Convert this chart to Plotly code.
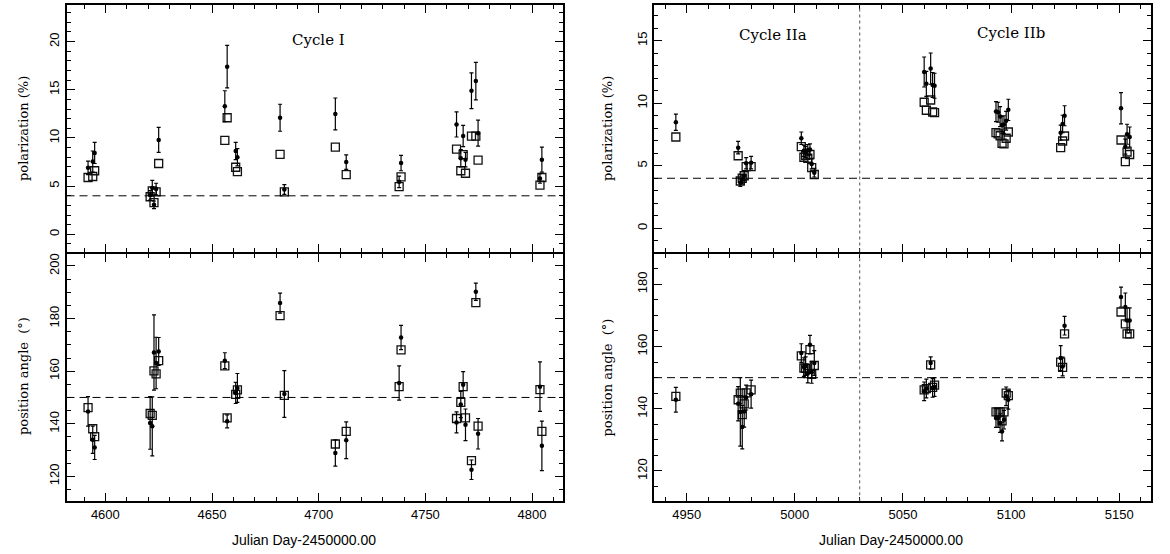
import plotly.graph_objects as go

# ---------------- Cycle I ----------------
c1_day = [4591.9, 4594.1, 4595.0, 4621.0, 4622.0, 4622.8, 4623.8, 4625.0,
          4656.0, 4657.1, 4661.1, 4661.9, 4681.9, 4683.9, 4707.8, 4712.9,
          4737.7, 4738.6, 4764.6, 4766.6, 4767.7, 4768.8, 4771.6, 4773.65,
          4774.7, 4803.7, 4804.6]
c1_pol = [6.9, 7.55, 8.45, 4.05, 4.8, 3.06, 4.7, 9.8,
          13.3, 17.4, 8.65, 8.0, 12.1, 4.65, 12.5, 7.5,
          5.45, 7.4, 11.4, 7.9, 10.2, 7.75, 14.9, 15.9,
          10.5, 5.8, 7.75]
c1_pol_err = [0.7, 1.1, 1.1, 0.5, 0.8, 0.4, 0.6, 1.3,
              1.6, 2.2, 0.9, 0.9, 1.4, 0.5, 1.65, 0.75,
              0.6, 0.8, 1.3, 0.9, 1.1, 0.75, 1.86, 1.95,
              1.35, 0.5, 1.3]
c1_pol_sq = [5.9, 6.0, 6.6, 3.9, 4.5, 3.3, 4.4, 7.35,
             9.75, 12.1, 6.96, 6.5, 8.3, 4.4, 9.06, 6.2,
             4.96, 5.96, 8.85, 6.6, 8.27, 6.34, 10.2, 10.2,
             7.7, 5.1, 5.9]
c1_pa = [144.7, 133.9, 131.0, 140.3, 139.0, 167.1, 163.1, 167.5,
         164.0, 140.9, 151.7, 153.6, 185.9, 151.3, 128.9, 133.7,
         155.5, 172.8, 140.5, 147.3, 154.8, 139.6, 122.5, 190.2,
         136.2, 154.1, 131.6]
c1_pa_err = [5.6, 5.2, 4.6, 10.0, 11.2, 14.3, 9.8, 5.3,
             3.0, 2.5, 4.0, 5.5, 3.8, 8.9, 5.0, 7.0,
             6.5, 4.6, 4.0, 5.0, 5.0, 6.0, 3.7, 3.3,
             5.8, 9.4, 9.4]
c1_pa_sq = [146.1, 138.1, 135.1, 143.9, 143.2, 160.1, 159.0, 164.0,
            162.0, 142.2, 151.2, 152.9, 181.1, 150.8, 132.3, 137.1,
            154.1, 168.1, 142.0, 148.1, 154.1, 142.2, 126.0, 186.1,
            139.1, 153.0, 137.1]

# ---------------- Cycle II ----------------
c2_day = [4945.0, 4973.8, 4974.8, 4975.7, 4976.6, 4977.5, 4979.8,
          5003.0, 5004.2, 5005.0, 5006.0, 5007.0, 5007.8, 5009.0,
          5059.8, 5060.8, 5062.8, 5063.7, 5064.6,
          5093.0, 5094.0, 5094.9, 5095.8, 5096.7, 5097.7, 5098.7,
          5122.9, 5123.8, 5124.7,
          5150.8, 5152.8, 5153.6, 5154.8]
c2_pol = [8.48, 6.45, 3.65, 3.9, 4.2, 5.2, 5.25,
          7.2, 6.2, 6.1, 6.25, 6.3, 5.15, 4.45,
          12.5, 11.55, 12.77, 11.46, 11.4,
          9.33, 9.28, 8.93, 8.26, 8.3, 8.6, 9.47,
          7.65, 8.34, 9.0,
          9.6, 6.53, 7.52, 7.3]
c2_pol_err = [0.65, 0.5, 0.3, 0.35, 0.4, 0.45, 0.5,
              0.5, 0.45, 0.45, 0.45, 0.45, 0.4, 0.35,
              1.2, 1.0, 1.25, 1.0, 1.0,
              0.8, 0.8, 0.8, 0.7, 0.7, 0.75, 0.85,
              0.6, 0.7, 0.8,
              1.25, 0.6, 0.8, 0.8]
c2_pol_sq = [7.3, 5.8, 3.78, 4.0, 4.2, 4.93, 4.93,
             6.53, 5.68, 5.84, 5.6, 5.9, 4.85, 4.3,
             10.08, 9.44, 10.26, 9.3, 9.25,
             7.65, 7.55, 7.4, 6.8, 6.75, 7.2, 7.7,
             6.45, 6.98, 7.38,
             7.06, 5.33, 6.1, 5.9]
c2_pa = [142.9, 141.6, 139.0, 134.1, 139.1, 143.6, 144.7,
         157.9, 153.4, 153.7, 151.3, 160.6, 151.7, 154.7,
         145.6, 146.5, 154.7, 146.7, 147.0,
         137.0, 137.0, 135.4, 132.7, 136.5, 144.0, 142.9,
         156.3, 153.6, 166.7,
         175.9, 172.7, 168.4, 168.4]
c2_pa_err = [4.0, 5.5, 11.0, 7.0, 5.0, 4.0, 4.5,
             3.0, 3.0, 3.0, 3.0, 3.0, 3.5, 4.0,
             3.0, 3.0, 2.0, 3.0, 3.0,
             3.0, 3.0, 3.0, 3.0, 3.0, 3.0, 3.0,
             4.0, 3.0, 3.0,
             3.2, 4.5, 4.0, 4.0]
c2_pa_sq = [144.0, 142.9, 145.0, 138.1, 141.6, 145.1, 146.1,
            157.0, 153.1, 153.0, 151.3, 159.0, 151.1, 153.9,
            146.1, 146.5, 154.1, 146.9, 147.6,
            139.0, 139.0, 139.0, 136.1, 139.0, 145.0, 144.2,
            155.0, 153.3, 164.1,
            171.1, 167.3, 164.1, 164.1]

pol_ref = 4.0
pa_ref = 150.0
cycle_split = 5030

W, H = 1170, 554
fig = go.Figure()

def add_panel(xa, ya, days, dots, errs, sqs):
    fig.add_trace(go.Scatter(
        x=days, y=sqs, mode="markers", xaxis=xa, yaxis=ya, showlegend=False,
        marker=dict(symbol="square-open", size=8, color="#111",
                    line=dict(width=1.3, color="#111"))))
    fig.add_trace(go.Scatter(
        x=days, y=dots, mode="markers", xaxis=xa, yaxis=ya, showlegend=False,
        marker=dict(symbol="circle", size=4.5, color="black"),
        error_y=dict(type="data", array=errs, visible=True, color="black",
                     thickness=1.2, width=2)))

add_panel("x", "y", c1_day, c1_pol, c1_pol_err, c1_pol_sq)
add_panel("x2", "y2", c1_day, c1_pa, c1_pa_err, c1_pa_sq)
add_panel("x3", "y3", c2_day, c2_pol, c2_pol_err, c2_pol_sq)
add_panel("x4", "y4", c2_day, c2_pa, c2_pa_err, c2_pa_sq)

tickfont = dict(family="Liberation Sans, Arial, sans-serif", size=13, color="black")
serif = "DejaVu Serif, serif"
LW = 2

def xaxis(domain, rng, anchor, labels):
    return dict(domain=domain, range=rng, anchor=anchor, showline=True,
                linecolor="black", linewidth=LW, mirror="allticks",
                ticks="inside", ticklen=8, tickwidth=1, tickcolor="black",
                dtick=50, tick0=0, showticklabels=labels, tickfont=tickfont,
                showgrid=False, zeroline=False,
                minor=dict(dtick=10, ticks="inside", ticklen=4,
                           tickcolor="black", tickwidth=1, showgrid=False))

def yaxis(domain, rng, anchor, dtick, mdtick):
    return dict(domain=domain, range=rng, anchor=anchor, showline=True,
                linecolor="black", linewidth=LW, mirror="allticks",
                ticks="inside", ticklen=8, tickwidth=1, tickcolor="black",
                dtick=dtick, tick0=0, tickangle=-90, tickfont=tickfont,
                showgrid=False, zeroline=False,
                minor=dict(dtick=mdtick, ticks="inside", ticklen=4,
                           tickcolor="black", tickwidth=1, showgrid=False))

xl = [66.5 / W, 563 / W]
xr = [654 / W, 1151.3 / W]
yt = [1 - 251.5 / H, 1 - 4.5 / H]
yb = [1 - 501.3 / H, 1 - 253.5 / H]

fig.update_layout(
    width=W, height=H, margin=dict(l=0, r=0, t=0, b=0),
    paper_bgcolor="white", plot_bgcolor="white", showlegend=False,
    xaxis=xaxis(xl, [4581.8, 4814.5], "y", False),
    yaxis=yaxis(yt, [-1.78, 23.85], "x", 5, 1),
    xaxis2=xaxis(xl, [4581.8, 4814.5], "y2", True),
    yaxis2=yaxis(yb, [110.5, 204.75], "x2", 20, 5),
    xaxis3=xaxis(xr, [4934.9, 5164.8], "y3", False),
    yaxis3=yaxis(yt, [-1.86, 17.9], "x3", 5, 1),
    xaxis4=xaxis(xr, [4934.9, 5164.8], "y4", True),
    yaxis4=yaxis(yb, [110.26, 189.9], "x4", 20, 5),
)

shapes = []
for xa, ya, v in [("x", "y", pol_ref), ("x2", "y2", pa_ref),
                  ("x3", "y3", pol_ref), ("x4", "y4", pa_ref)]:
    shapes.append(dict(type="line", xref=f"{xa} domain", yref=ya, x0=0, x1=1,
                       y0=v, y1=v, line=dict(color="black", width=1, dash="8px,5px")))
for xa, ya in [("x3", "y3"), ("x4", "y4")]:
    shapes.append(dict(type="line", xref=xa, yref=f"{ya} domain", x0=cycle_split,
                       x1=cycle_split, y0=0, y1=1,
                       line=dict(color="#555", width=1, dash="dot")))
fig.update_layout(shapes=shapes)

ann = []
for t, xv, yv, xr_, yr_ in [("Cycle I", 4700, 20.2, "x", "y"),
                            ("Cycle IIa", 4990, 15.5, "x3", "y3"),
                            ("Cycle IIb", 5100, 15.6, "x3", "y3")]:
    ann.append(dict(text=t, x=xv, y=yv, xref=xr_, yref=yr_, showarrow=False,
                    xanchor="center", yanchor="middle",
                    font=dict(family=serif, size=15, color="black")))
for xp, yp, t in [(23, 129, "polarization (%)"), (23, 376, "position angle  (°)"),
                  (607, 129, "polarization (%)"), (607, 377.5, "position angle  (°)")]:
    ann.append(dict(text=t, x=xp / W, y=1 - yp / H, xref="paper", yref="paper",
                    showarrow=False, textangle=-90, xanchor="center", yanchor="middle",
                    font=dict(family=serif, size=13, color="black")))
for xp in [304, 891]:
    ann.append(dict(text="Julian Day-2450000.00", x=xp / W, y=1 - 540 / H,
                    xref="paper", yref="paper", showarrow=False,
                    xanchor="center", yanchor="middle",
                    font=dict(family="Liberation Sans, Arial, sans-serif", size=14,
                              color="black")))
fig.update_layout(annotations=ann)

fig.write_html("out.html")
